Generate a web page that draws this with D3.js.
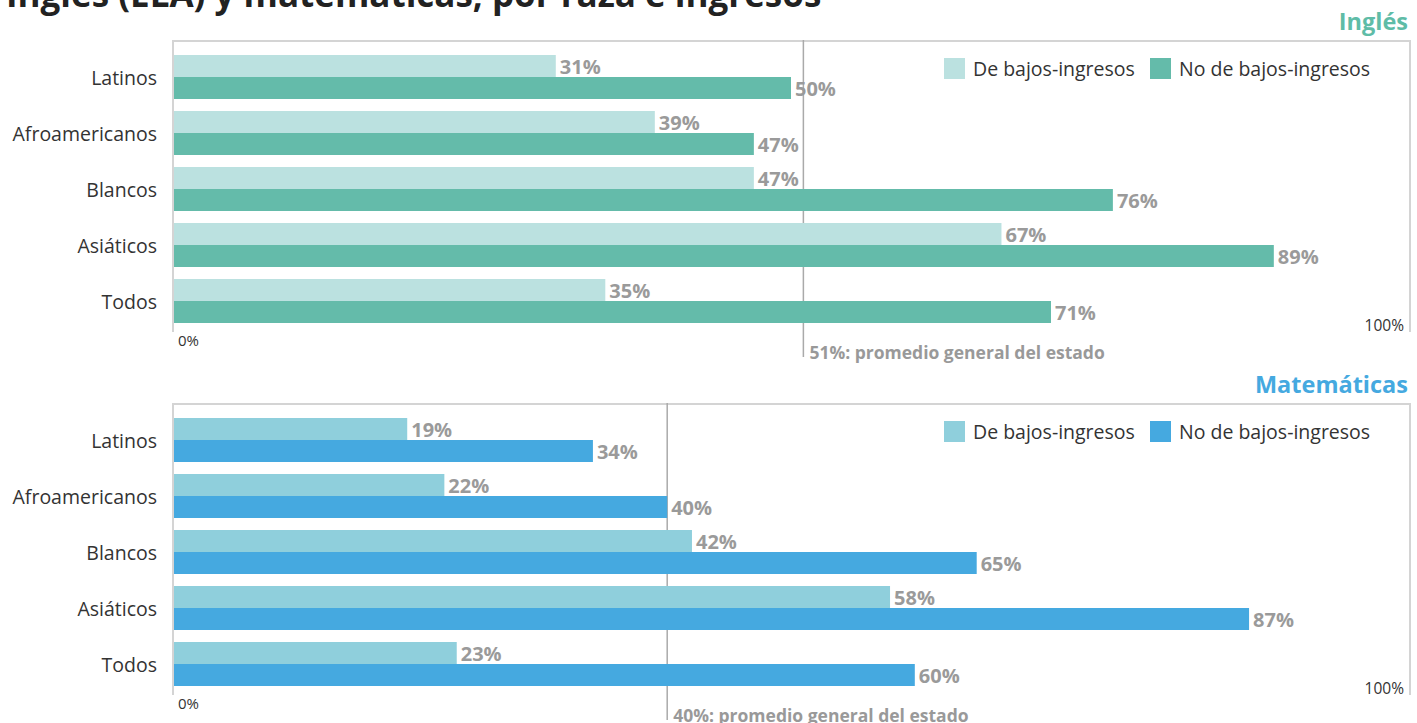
<!DOCTYPE html>
<html>
<head>
<meta charset="utf-8">
<script src="https://cdn.jsdelivr.net/npm/d3@7"></script>
<style>
  body { margin: 0; background: #fff; }
  svg { display: block; font-family: "Open Sans", Lato, sans-serif; }
</style>
</head>
<body>
<div id="chart"></div>
<script>
var categories = ['Latinos', 'Afroamericanos', 'Blancos', 'Asiáticos', 'Todos'];
var seriesNames = ['De bajos-ingresos', 'No de bajos-ingresos'];

var englishLow = [31, 39, 47, 67, 35];
var englishHigh = [50, 47, 76, 89, 71];
var englishAvg = 51;

var mathLow = [19, 22, 42, 58, 23];
var mathHigh = [34, 40, 65, 87, 60];
var mathAvg = 40;

var tickLabels = ['0%', '100%'];

var W = 1417, H = 723;

var svg = d3.select("#chart").append("svg")
  .attr("width", W)
  .attr("height", H);

// title, cut off at the top of the picture
svg.append("text")
  .attr("x", 6)
  .attr("y", 7)
  .attr("font-size", "35px")
  .attr("font-weight", "bold")
  .attr("fill", "#222")
  .text("Inglés (ELA) y matemáticas, por raza e ingresos");

var x = d3.scaleLinear().domain([0, 100]).range([172, 1410]);

function drawPanel(top, title, titleColor, low, high, avg, colors) {
  var g = svg.append("g").attr("transform", "translate(0," + top + ")");

  var y0 = d3.scaleBand()
    .domain(categories)
    .range([15, 15 + 56 * (categories.length - 1) + 44])
    .paddingInner(12 / 56)
    .paddingOuter(0);

  var y1 = d3.scaleBand()
    .domain([0, 1])
    .range([0, y0.bandwidth()]);

  // section title
  g.append("text")
    .attr("x", 1408)
    .attr("y", -10)
    .attr("text-anchor", "end")
    .attr("font-size", "23.5px")
    .attr("font-weight", "bold")
    .attr("fill", titleColor)
    .text(title);

  // frame
  var frame = "#d4d4d4";
  g.append("line").attr("x1", 172).attr("x2", 1411).attr("y1", 1).attr("y2", 1)
    .attr("stroke", frame).attr("stroke-width", 2);
  g.append("line").attr("x1", 173).attr("x2", 173).attr("y1", 0).attr("y2", 292)
    .attr("stroke", frame).attr("stroke-width", 2);
  g.append("line").attr("x1", 1410).attr("x2", 1410).attr("y1", 0).attr("y2", 292)
    .attr("stroke", frame).attr("stroke-width", 2);

  // average line
  g.append("line")
    .attr("x1", x(avg)).attr("x2", x(avg))
    .attr("y1", 0).attr("y2", 317)
    .attr("stroke", "#aaa")
    .attr("stroke-width", 1.5);

  g.append("text")
    .attr("x", x(avg) + 6)
    .attr("y", 319)
    .attr("font-size", "17.5px")
    .attr("font-weight", "bold")
    .attr("fill", "#999")
    .text(avg + "%: promedio general del estado");

  var rows = categories.map(function(c, i) { return {cat: c, vals: [low[i], high[i]]}; });

  var grp = g.selectAll(".grp")
    .data(rows)
    .enter().append("g")
    .attr("transform", function(d) { return "translate(0," + y0(d.cat) + ")"; });

  grp.selectAll("rect")
    .data(function(d) { return d.vals; })
    .enter().append("rect")
    .attr("x", x(0) + 2)
    .attr("y", function(d, i) { return y1(i); })
    .attr("width", function(d) { return x(d) - x(0) - 2; })
    .attr("height", y1.bandwidth())
    .attr("fill", function(d, i) { return colors[i]; });

  grp.selectAll(".val")
    .data(function(d) { return d.vals; })
    .enter().append("text")
    .attr("x", function(d) { return x(d) + 4; })
    .attr("y", function(d, i) { return y1(i) + y1.bandwidth() / 2 + 1; })
    .attr("dy", "0.36em")
    .attr("font-size", "20px")
    .attr("font-weight", "bold")
    .attr("fill", "#9a9a9a")
    .text(function(d) { return d + "%"; });

  grp.append("text")
    .attr("x", 157)
    .attr("y", y0.bandwidth() / 2 + 1)
    .attr("dy", "0.35em")
    .attr("text-anchor", "end")
    .attr("font-size", "19.5px")
    .attr("fill", "#333")
    .text(function(d) { return d.cat; });

  // tick labels
  g.append("text")
    .attr("x", 178).attr("y", 306)
    .attr("font-size", "15px").attr("fill", "#333")
    .text(tickLabels[0]);
  g.append("text")
    .attr("x", 1404).attr("y", 291)
    .attr("text-anchor", "end")
    .attr("font-size", "15.5px").attr("fill", "#333")
    .text(tickLabels[1]);

  // legend
  var legX = [944, 1150];
  seriesNames.forEach(function(name, i) {
    g.append("rect")
      .attr("x", legX[i]).attr("y", 18)
      .attr("width", 21).attr("height", 21)
      .attr("fill", colors[i]);
    g.append("text")
      .attr("x", legX[i] + 29).attr("y", 29)
      .attr("dy", "0.35em")
      .attr("font-size", "19.5px")
      .attr("fill", "#333")
      .text(name);
  });
}

drawPanel(40, "Inglés", "#5fbca7", englishLow, englishHigh, englishAvg, ["#bbe1e0", "#64bbaa"]);
drawPanel(403, "Matemáticas", "#45a9e0", mathLow, mathHigh, mathAvg, ["#8fcfdc", "#45a9e0"]);
</script>
</body>
</html>
